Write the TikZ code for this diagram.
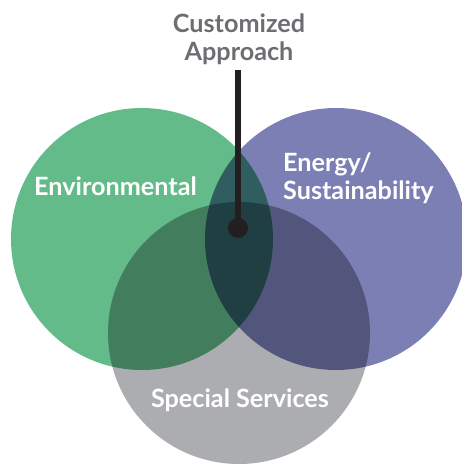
\documentclass[tikz,border=0pt]{standalone}
\usepackage{fontspec}
\setmainfont{Lato}[BoldFont={* Bold}]
\usepackage{tikz}
\definecolor{envgreen}{RGB}{99,187,137}
\definecolor{energyblue}{RGB}{124,127,180}
\definecolor{servgray}{RGB}{172,173,176}
\definecolor{titlegray}{RGB}{109,110,113}
\definecolor{stemblack}{RGB}{35,31,32}

\begin{document}
\begin{tikzpicture}[x=1pt, y=-1pt,
  venn/.style={circle, minimum size=262pt, inner sep=0pt},
  label/.style={font=\bfseries\fontsize{25.2}{27.5}\selectfont, text=white, inner sep=0pt, align=left},
  stem/.style={line width=5.5pt, stemblack}]
\useasboundingbox (0,0) rectangle (462,464);
% the three fields
\begin{scope}[blend group=multiply]
\node[venn, fill=envgreen] (env) at (142,239) {};
\node[venn, fill=energyblue] (energy) at (336,239) {};
\node[venn, fill=servgray] (special) at (239,333) {};
\end{scope}
\node[label, anchor=base west] (envtext) at (34,195) {Environmental};
\node[label, anchor=base west] (energytext) at (283,199) {Energy/\\Sustainability};
\node[label, anchor=base] (specialtext) at (240,407) {Special Services};
% pointer to the middle
\node[label, text=titlegray, align=center, anchor=base] (approach) at (239,60) {Customized\\Approach};
\node[circle, fill=stemblack, minimum size=20pt, inner sep=0pt] (hub) at (238,228) {};
\draw[stem, shorten <=6pt] (approach.south -| hub) -- (hub.center);
\end{tikzpicture}
\end{document}
